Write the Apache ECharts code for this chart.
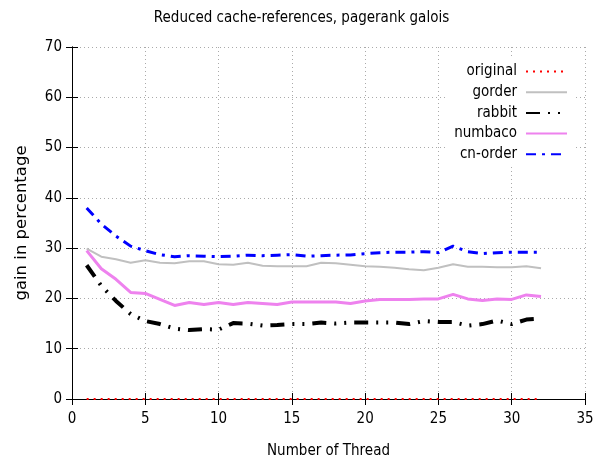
<!DOCTYPE html>
<html><head><meta charset="utf-8">
<script src="https://cdn.jsdelivr.net/npm/echarts@6/dist/echarts.min.js"></script>
<style>html,body{margin:0;padding:0;background:#fff}#c{width:603px;height:464px}</style>
</head><body><div id="c"></div>
<script>
const threads = [1,2,3,4,5,6,7,8,9,10,11,12,13,14,15,16,17,18,19,20,21,22,23,24,25,26,27,28,29,30,31,32];
const original = [0,0,0,0,0,0,0,0,0,0,0,0,0,0,0,0,0,0,0,0,0,0,0,0,0,0,0,0,0,0,0,0];
const gorder = [29.9,28.3,27.8,27.1,27.6,27.1,27.0,27.4,27.4,26.8,26.7,27.1,26.5,26.4,26.4,26.4,27.1,27.0,26.7,26.4,26.3,26.1,25.8,25.6,26.1,26.8,26.3,26.3,26.2,26.2,26.4,26.0];
const rabbit = [26.6,22.5,19.5,16.9,15.5,14.9,14.0,13.7,13.9,13.8,15.1,15.0,14.6,14.7,14.9,14.9,15.2,15.0,15.2,15.2,15.2,15.2,14.9,15.5,15.3,15.3,14.6,14.9,15.6,14.9,15.8,16.0];
const numbaco = [29.5,25.9,23.8,21.2,21.0,19.8,18.6,19.2,18.8,19.2,18.8,19.2,19.0,18.8,19.3,19.3,19.3,19.3,19.0,19.5,19.8,19.8,19.8,19.9,19.9,20.8,19.9,19.6,19.9,19.8,20.7,20.4];
const cnorder = [38.0,34.8,32.4,30.4,29.5,28.7,28.3,28.5,28.4,28.3,28.4,28.6,28.5,28.6,28.7,28.4,28.5,28.6,28.65,28.9,29.1,29.2,29.2,29.3,29.1,30.4,29.3,28.9,29.1,29.2,29.2,29.2];
const xTicks = [0,5,10,15,20,25,30,35];
const yTicks = [0,10,20,30,40,50,60,70];

const FONT = '"DejaVu Sans Condensed", "DejaVu Sans", sans-serif';
function pairs(arr){ return threads.map((t,i)=>[t,arr[i]]); }
const chart = echarts.init(document.getElementById('c'), null, {renderer:'canvas'});
chart.setOption({
  animation:false,
  backgroundColor:'#fff',
  title:{text:'Reduced cache-references, pagerank galois', left:'center', top:6,
    textStyle:{fontFamily:FONT, fontSize:15, fontWeight:'normal', color:'#000'}},
  grid:{left:72, right:18, top:47, bottom:64},
  legend:{
    orient:'vertical', right:27, top:56, align:'right', itemGap:5.7,
    itemWidth:41, itemHeight:15, z:5,
    backgroundColor:'#fff', padding:[8,8,4,8],
    itemStyle:{opacity:0},
    textStyle:{fontFamily:FONT, fontSize:15, color:'#000', padding:[0,4,0,0]},
    data:['original','gorder','rabbit','numbaco','cn-order']
  },
  xAxis:[{
    type:'value', min:xTicks[0], max:xTicks[xTicks.length-1], interval:5,
    name:'Number of Thread', nameLocation:'middle', nameGap:45,
    nameTextStyle:{fontFamily:FONT, fontSize:15, color:'#000'},
    axisLine:{lineStyle:{color:'#000', width:1}},
    axisTick:{inside:true, length:6, lineStyle:{color:'#000'}},
    axisLabel:{color:'#000', fontFamily:FONT, fontSize:15, margin:13},
    splitLine:{show:true, lineStyle:{color:'#aaa', type:[1,3], width:1}}
  },{
    type:'value', position:'top', min:0, max:35, interval:5,
    axisLine:{show:true, lineStyle:{color:'#000'}},
    axisTick:{inside:true, length:6, lineStyle:{color:'#000'}},
    axisLabel:{show:false}, splitLine:{show:false}
  }],
  yAxis:[{
    type:'value', min:yTicks[0], max:yTicks[yTicks.length-1], interval:10,
    name:'gain in percentage', nameLocation:'middle', nameGap:42,
    nameTextStyle:{fontFamily:'"DejaVu Sans", sans-serif', fontSize:16.5, color:'#000'},
    axisLine:{show:true, lineStyle:{color:'#000', width:1}},
    axisTick:{show:true, inside:true, length:6, lineStyle:{color:'#000'}},
    axisLabel:{color:'#000', fontFamily:FONT, fontSize:15, margin:10},
    splitLine:{show:true, lineStyle:{color:'#aaa', type:[1,3], width:1}}
  },{
    type:'value', position:'right', min:0, max:70, interval:10,
    axisLine:{show:true, lineStyle:{color:'#000'}},
    axisTick:{show:true, inside:true, length:6, lineStyle:{color:'#000'}},
    axisLabel:{show:false}, splitLine:{show:false}
  }],
  series:[
    {name:'original', type:'line', data:pairs(original), showSymbol:false, symbol:'none', z:5,
      lineStyle:{color:'#ff0000', width:2, type:[2,5]}, itemStyle:{color:'#ff0000'}},
    {name:'gorder', type:'line', data:pairs(gorder), showSymbol:false, symbol:'none',
      lineStyle:{color:'#c0c0c0', width:2}, itemStyle:{color:'#c0c0c0'}},
    {name:'rabbit', type:'line', data:pairs(rabbit), showSymbol:false, symbol:'none',
      lineStyle:{color:'#000', width:4, type:[14,8,2,8,2,8]}, itemStyle:{color:'#000'}},
    {name:'numbaco', type:'line', data:pairs(numbaco), showSymbol:false, symbol:'none',
      lineStyle:{color:'#ee82ee', width:3}, itemStyle:{color:'#ee82ee'}},
    {name:'cn-order', type:'line', data:pairs(cnorder), showSymbol:false, symbol:'none',
      lineStyle:{color:'#0000ff', width:3, type:[10,6,3,6]}, itemStyle:{color:'#0000ff'}}
  ]
});
</script></body></html>
